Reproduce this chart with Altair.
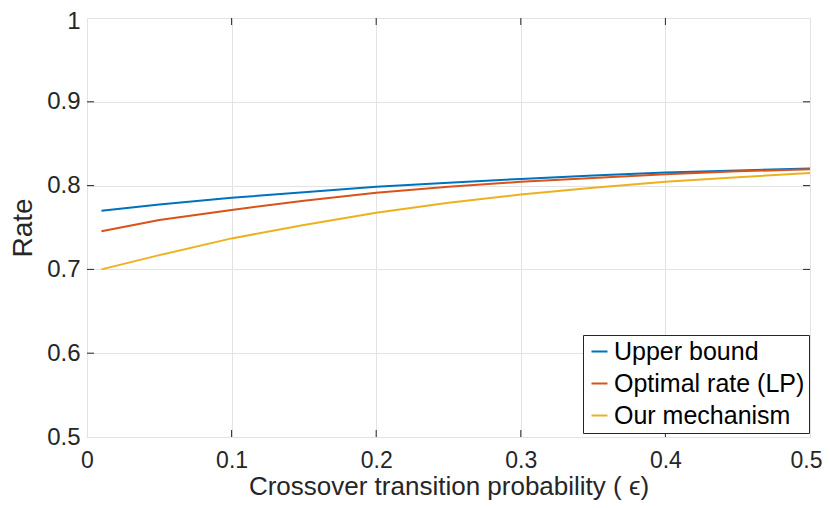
import altair as alt
import pandas as pd

eps = [0.01, 0.05, 0.10, 0.15, 0.20, 0.25, 0.30, 0.35, 0.40, 0.45, 0.50]
upper = [0.770, 0.7775, 0.7855, 0.792, 0.7985, 0.8035, 0.808, 0.812, 0.8155, 0.818, 0.8205]
optimal = [0.7455, 0.759, 0.771, 0.782, 0.7915, 0.7985, 0.8045, 0.809, 0.8135, 0.817, 0.8195]
ours = [0.700, 0.717, 0.737, 0.753, 0.7675, 0.7795, 0.7895, 0.7975, 0.8045, 0.810, 0.815]
series = ["Upper bound", "Optimal rate (LP)", "Our mechanism"]
colors = ["#0072BD", "#D95319", "#EDB120"]
xticks = [0, 0.1, 0.2, 0.3, 0.4, 0.5]
yticks = [0.5, 0.6, 0.7, 0.8, 0.9, 1.0]

rows = []
for name, vals in zip(series, [upper, optimal, ours]):
    for e, v in zip(eps, vals):
        rows.append({"eps": e, "rate": v, "series": name})
df = pd.DataFrame(rows)

FONT = "Liberation Sans"
TXT = "#262626"
xscale = alt.Scale(domain=[0, 0.5], nice=False, zero=False)
yscale = alt.Scale(domain=[0.5, 1.0], nice=False, zero=False)

lines = alt.Chart(df).mark_line(strokeWidth=2, clip=True).encode(
    x=alt.X("eps:Q", scale=xscale,
            axis=alt.Axis(values=xticks, format="~g", title="Crossover transition probability ( ϵ)",
                          grid=True, gridColor="#e3e3e3", tickSize=0, domain=False,
                          labelFontSize=23, labelPadding=12, labelColor=TXT,
                          labelAlign=alt.ExprRef(expr="datum.value >= 0.5 ? 'right' : 'center'"),
                          labelOffset=alt.ExprRef(expr="datum.value >= 0.5 ? 12 : 0"),
                          titleFontSize=26, titleFontWeight="normal", titleColor=TXT,
                          titlePadding=1, labelFont=FONT, titleFont=FONT, labelFlush=False)),
    y=alt.Y("rate:Q", scale=yscale,
            axis=alt.Axis(values=yticks, format="~g", title="Rate",
                          grid=True, gridColor="#e3e3e3", tickSize=0, domain=False,
                          labelFontSize=24, labelPadding=7, labelColor=TXT,
                          labelOffset=alt.ExprRef(expr="datum.value >= 1 ? 3 : 0"),
                          titleFontSize=28, titleFontWeight="normal", titleColor=TXT,
                          titlePadding=9, labelFont=FONT, titleFont=FONT, labelFlush=False)),
    color=alt.Color("series:N", scale=alt.Scale(domain=series, range=colors),
                    legend=alt.Legend(title=None, orient="none", legendX=496, legendY=317,
                                      symbolType="stroke", symbolSize=256, symbolStrokeWidth=2,
                                      labelFontSize=25, labelFont=FONT, labelColor="#000000",
                                      labelLimit=400, strokeColor="#262626", fillColor="#ffffff",
                                      padding=4, rowPadding=6, labelOffset=2, symbolOffset=0,
                                      cornerRadius=0)),
)

xt = pd.DataFrame({"v": xticks[1:-1]})
yt = pd.DataFrame({"v": yticks[1:-1]})
xt_bottom = alt.Chart(xt).mark_rule(color=TXT, strokeWidth=1).encode(
    x=alt.X("v:Q", scale=xscale), y=alt.value(419), y2=alt.value(412))
xt_top = alt.Chart(xt).mark_rule(color=TXT, strokeWidth=1).encode(
    x=alt.X("v:Q", scale=xscale), y=alt.value(0), y2=alt.value(7))
yt_left = alt.Chart(yt).mark_rule(color=TXT, strokeWidth=1).encode(
    y=alt.Y("v:Q", scale=yscale), x=alt.value(0), x2=alt.value(7))
yt_right = alt.Chart(yt).mark_rule(color=TXT, strokeWidth=1).encode(
    y=alt.Y("v:Q", scale=yscale), x=alt.value(723), x2=alt.value(716))

chart = alt.layer(lines, xt_bottom, xt_top, yt_left, yt_right).properties(
    width=723, height=419,
    autosize=alt.AutoSizeParams(type="none"),
    padding={"left": 79, "top": 10, "right": 12, "bottom": 63},
).configure_view(stroke=TXT, strokeWidth=1.2).configure(background="white")

chart.save("out.html", embed_options={"renderer": "svg", "actions": False})
